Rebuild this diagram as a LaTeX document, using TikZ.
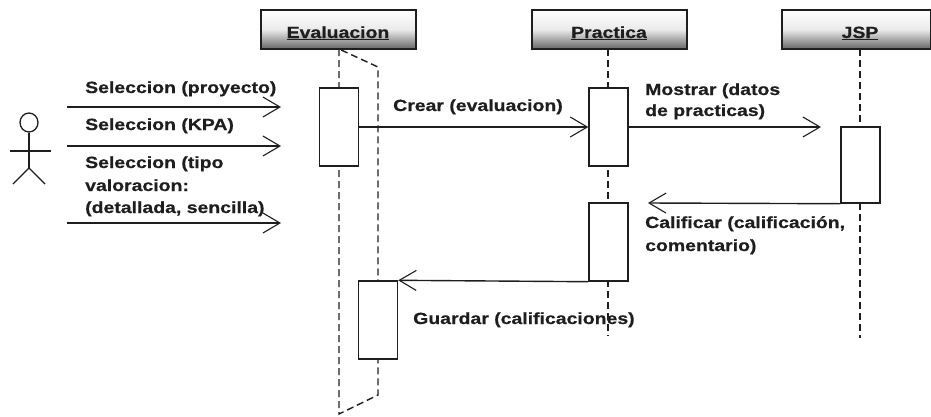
\documentclass[tikz,border=0pt]{standalone}
\usepackage{fontspec}
\setmainfont[FakeStretch=1.2,FakeBold=0.6]{Liberation Sans}
\usetikzlibrary{arrows.meta,shapes.geometric}
\definecolor{ink}{HTML}{1E1E1E}
\tikzset{
  obj/.style={draw=ink,line width=1.4pt,minimum height=39pt,inner sep=0pt,top color=white,bottom color=black!60,middle color=black!8},
  act/.style={draw=ink,line width=1.4pt,fill=white,inner sep=0pt,minimum width=39pt},
  msg/.style={draw=ink,line width=1.4pt,-{Straight Barb[length=17pt,width=20pt,line width=1.1pt]}},
  life/.style={draw=ink,line width=1.4pt,dash pattern=on 7pt off 4pt},
  lbl/.style={anchor=base west,inner sep=0pt,text=ink,font=\fontsize{16.2}{16.2}\selectfont\bfseries},
  ttl/.style={anchor=base,inner sep=0pt,text=ink,font=\fontsize{16.2}{16.2}\selectfont\bfseries},
  stick/.style={draw=ink,line width=1.3pt}
}
\begin{document}
\begin{tikzpicture}[x=1pt,y=-1pt]
\useasboundingbox (0,0) rectangle (931,416);
% objects
\node[obj,minimum width=155pt] (ev) at (338.5,29.5) {};
\node[obj,minimum width=155pt] (pr) at (609.5,29.5) {};
\node[obj,minimum width=149pt] (js) at (856.5,29.5) {};
\node[ttl] (evt) at (338,38) {\underline{Evaluacion}};
\node[ttl] (prt) at (609,38) {\underline{Practica}};
\node[ttl] (jst) at (860,38) {\underline{JSP}};
% named lifeline ends
\coordinate (evb) at (339,414);
\coordinate (evc) at (378,395);
\coordinate (evd) at (378,67);
\coordinate (evs) at (339,49);
\coordinate (prs) at (608,49);
\coordinate (pre) at (608,336);
\coordinate (jss) at (860,49);
\coordinate (jse) at (860,338);
% lifelines
\draw[life] (evs) -- (evb) -- (evc) -- (evd) -- cycle;
\draw[life] (prs) -- (pre);
\draw[life] (jss) -- (jse);
% activations
\node[act,minimum height=78pt] (a1) at (339,127) {};
\node[act,minimum height=78pt] (a2) at (378,320) {};
\node[act,minimum height=78pt] (b1) at (608.5,127) {};
\node[act,minimum height=78pt] (b2) at (608.5,242) {};
\node[act,minimum height=76pt] (c1) at (860.5,165) {};
% actor
\node[draw=ink,line width=1.3pt,ellipse,minimum width=18pt,minimum height=19pt,inner sep=0pt] (head) at (29,122.5) {};
\coordinate (hip) at (29,168);
\coordinate (armL) at (10,151);
\coordinate (armR) at (51,151);
\coordinate (legL) at (13,184);
\coordinate (legR) at (45,184);
\draw[stick] (head.south) -- (hip);
\draw[stick] (armL) -- (armR);
\draw[stick] (legL) -- (hip) -- (legR);
% free ends of actor messages
\coordinate (s1) at (67,107);
\coordinate (t1) at (281,107);
\coordinate (s2) at (67,146);
\coordinate (t2) at (281,146);
\coordinate (s3) at (67,223);
\coordinate (t3) at (281,223);
\coordinate (t4) at (821,127);
\coordinate (t5) at (648,203);
% messages
\draw[msg] (s1) -- (t1);
\draw[msg] (s2) -- (t2);
\draw[msg] (s3) -- (t3);
\draw[msg] (a1.east) -- (b1.west);
\draw[msg] (b1.east) -- (t4);
\draw[msg] (c1.south west) -- (t5);
\draw[msg] (b2.south west) -- (a2.north east);
% labels
\node[lbl] (l1) at (85,93) {Seleccion (proyecto)};
\node[lbl] (l2) at (85,130) {Seleccion (KPA)};
\node[lbl] (l3) at (85,168) {Seleccion (tipo};
\node[lbl] (l4) at (85,191) {valoracion:};
\node[lbl] (l5) at (85,213) {(detallada, sencilla)};
\node[lbl] (l6) at (393,111) {Crear (evaluacion)};
\node[lbl] (l7) at (645,95) {Mostrar (datos};
\node[lbl] (l8) at (645,116) {de practicas)};
\node[lbl] (l9) at (645,228) {Calificar (calificación,};
\node[lbl] (l10) at (645,251) {comentario)};
\node[lbl] (l11) at (413,324) {Guardar (calificaciones)};
\end{tikzpicture}
\end{document}
